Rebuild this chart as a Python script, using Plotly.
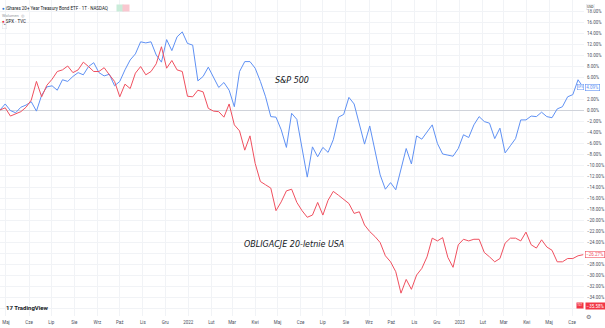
import pandas as pd
import plotly.graph_objects as go

# ---- data (percent change since start, weekly) ----
start_date = "2021-04-23"
n_weeks = 113
sp500 = [0.0, 1.1, -0.1, -0.5, 0.5, 0.9, 1.5, -0.2, 2.7, 4.2,
         4.4, 3.6, 5.5, 5.2, 6.1, 6.8, 6.4, 7.9, 8.6, 6.8,
         6.2, 6.5, 4.4, 5.2, 7.3, 9.1, 10.2, 12.4, 12.2, 12.4,
         10.0, 8.7, 12.8, 10.8, 13.3, 14.2, 12.1, 11.8, 5.3, 6.1,
         7.8, 5.9, 4.1, 5.0, 3.6, 0.6, 7.0, 8.8, 8.8, 7.6,
         5.2, 2.4, -1.2, -1.3, -3.6, -6.8, -0.6, -1.7, -6.7, -12.2,
         -6.7, -8.5, -6.8, -7.7, -5.4, -1.3, -0.8, 2.3, 1.1, -2.7,
         -6.2, -2.9, -7.6, -11.8, -14.4, -13.2, -14.5, -10.9, -7.0, -9.8,
         -4.7, -5.3, -3.9, -2.7, -6.1, -8.0, -8.2, -8.4, -7.0, -4.5,
         -5.0, -2.7, -1.2, -2.1, -2.4, -5.2, -3.3, -7.8, -6.5, -5.2,
         -1.8, -1.8, -1.1, -1.2, -0.4, -1.2, -1.4, 0.2, 0.6, 2.4,
         2.8, 5.5, 4.1]
bonds = [0.0, 0.4, -1.1, -0.7, -0.3, 0.5, 1.8, 5.2, 2.4, 4.5,
         5.6, 7.0, 7.3, 8.0, 6.8, 7.3, 8.7, 7.9, 7.0, 7.0,
         7.7, 6.4, 5.2, 2.4, 4.7, 3.9, 6.7, 7.9, 6.4, 7.0,
         8.4, 11.5, 7.6, 9.0, 7.3, 7.0, 2.5, 2.4, 3.6, 3.3,
         0.3, -0.2, -0.3, -1.3, 1.1, -2.7, -3.8, -7.3, -4.7, -9.7,
         -13.0, -13.6, -14.2, -18.3, -16.7, -14.7, -14.4, -16.8, -18.3, -19.5,
         -19.1, -16.8, -19.1, -16.4, -14.8, -15.5, -16.2, -17.0, -18.8, -18.5,
         -20.9, -22.1, -23.0, -24.1, -26.5, -27.6, -29.4, -33.3, -30.8, -32.6,
         -30.0, -28.8, -26.7, -23.3, -23.8, -23.2, -26.8, -28.6, -24.5, -23.5,
         -23.8, -23.5, -23.5, -25.9, -26.7, -27.6, -27.0, -24.2, -23.3, -23.3,
         -23.8, -22.2, -24.5, -25.1, -23.6, -24.9, -25.5, -27.6, -27.6, -27.0,
         -27.0, -26.5, -26.3]

month_ticks = ["2021-05-01", "2021-06-01", "2021-07-01", "2021-08-01", "2021-09-01",
               "2021-10-01", "2021-11-01", "2021-12-01", "2022-01-01", "2022-02-01",
               "2022-03-01", "2022-04-01", "2022-05-01", "2022-06-01", "2022-07-01",
               "2022-08-01", "2022-09-01", "2022-10-01", "2022-11-01", "2022-12-01",
               "2023-01-01", "2023-02-01", "2023-03-01", "2023-04-01", "2023-05-01",
               "2023-06-01"]
month_labels = ["Maj", "Cze", "Lip", "Sie", "Wrz", "Paź", "Lis", "Gru", "2022", "Lut",
                "Mar", "Kwi", "Maj", "Cze", "Lip", "Sie", "Wrz", "Paź", "Lis", "Gru",
                "2023", "Lut", "Mar", "Kwi", "Maj", "Cze"]
y_ticks = list(range(-36, 19, 2))
sp_label = "4.09%"
bond_label = "−26.27%"
extra_label = "−35.58%"
extra_value = -35.58

dates = pd.date_range(start_date, periods=n_weeks, freq="7D")

def fmt(v):
    s = f"{abs(v):.2f}%"
    return ("−" + s) if v < 0 else s

# price-scale tick labels hidden under the value tags (as in the reference)
covered = [sp500[-1], bonds[-1], extra_value]
tick_text = ["" if any(abs(v - c) < 1.2 for c in covered) else fmt(v) for v in y_ticks]

BLUE = "#5f91f4"
RED = "#f0505f"
FONT = "Roboto"

fig = go.Figure()
fig.add_trace(go.Scatter(x=dates, y=sp500, mode="lines",
                         line=dict(color=BLUE, width=1), hoverinfo="skip"))
fig.add_trace(go.Scatter(x=dates, y=bonds, mode="lines",
                         line=dict(color=RED, width=1), hoverinfo="skip"))

fig.update_layout(
    width=605, height=328,
    margin=dict(l=0, r=17, t=0, b=12),
    paper_bgcolor="white", plot_bgcolor="white",
    showlegend=False,
    font=dict(family=FONT, color="#4a4f5c", size=4.5),
    xaxis=dict(range=["2021-04-23", "2023-06-17"], tickvals=month_ticks,
               ticktext=month_labels, showgrid=True, gridcolor="#f1f3f6",
               gridwidth=1, zeroline=False, showline=False, ticks="",
               tickfont=dict(size=4.5, color="#4a4f5c"), ticklabelstandoff=2),
    yaxis=dict(range=[-37.45, 20], side="right", tickvals=y_ticks,
               ticktext=tick_text, showgrid=True,
               gridcolor="#f1f3f6", gridwidth=1, zeroline=True,
               zerolinecolor="#d0d3da", zerolinewidth=1, showline=False,
               ticks="", tickfont=dict(size=4.5, color="#4a4f5c"),
               ticklabelstandoff=2),
)

ann = []
# chart labels
ann.append(dict(x=0.50, y=1 - 74 / 316, xref="paper", yref="paper",
                text="<i>S&amp;P 500</i>", showarrow=False,
                font=dict(size=8, color="#131722", family="DejaVu Sans")))
ann.append(dict(x=0.504, y=1 - 251 / 316, xref="paper", yref="paper",
                text="<i>OBLIGACJE 20-letnie USA</i>", showarrow=False,
                font=dict(size=8, color="#131722", family="DejaVu Sans")))
# legend (top left)
ann.append(dict(x=0.0, y=1 - 4.5 / 316, xref="paper", yref="paper", xanchor="left",
                text="<span style='color:#2a78d6'>●</span> iShares 20+ Year Treasury Bond ETF · 1T · NASDAQ",
                showarrow=False, font=dict(size=4.5, color="#131722")))
ann.append(dict(x=117 / 588, y=1 - 4.5 / 316, xref="paper", yref="paper", xanchor="left",
                text=" ", showarrow=False, bgcolor="#c9ecd9", width=4, height=4,
                font=dict(size=3)))
ann.append(dict(x=123 / 588, y=1 - 4.5 / 316, xref="paper", yref="paper", xanchor="left",
                text=" ", showarrow=False, bgcolor="#f9c7cf", width=4, height=4,
                font=dict(size=3)))
ann.append(dict(x=0.0, y=1 - 11 / 316, xref="paper", yref="paper", xanchor="left",
                text="Wolumen  ◎", showarrow=False,
                font=dict(size=4, color="#9598a1")))
ann.append(dict(x=0.0, y=1 - 17 / 316, xref="paper", yref="paper", xanchor="left",
                text="<span style='color:#e5283a'>●</span> SPX · TVC", showarrow=False,
                font=dict(size=4.5, color="#131722")))
ann.append(dict(x=2 / 588, y=1 - 23.5 / 316, xref="paper", yref="paper", xanchor="left",
                text="⌃", showarrow=False, bordercolor="#e0e3eb", borderwidth=0.5,
                borderpad=0.5, font=dict(size=3.5, color="#131722")))
# price scale labels
ann.append(dict(x=589 / 588, y=sp500[-1], xref="paper", yref="y", xanchor="left",
                text=sp_label, showarrow=False, bgcolor="white", bordercolor=BLUE,
                borderwidth=0.6, borderpad=0.6, font=dict(size=4.5, color=BLUE)))
ann.append(dict(x=588 / 588, y=sp500[-1], xref="paper", yref="y", xanchor="right",
                text="SPX", showarrow=False, bgcolor="white", bordercolor=BLUE,
                borderwidth=0.5, borderpad=0.3, font=dict(size=3, color=BLUE)))
ann.append(dict(x=589 / 588, y=bonds[-1], xref="paper", yref="y", xanchor="left",
                text=bond_label, showarrow=False, bgcolor="white", bordercolor=RED,
                borderwidth=0.6, borderpad=0.6, font=dict(size=4.5, color=RED)))
ann.append(dict(x=589 / 588, y=extra_value, xref="paper", yref="y", xanchor="left",
                text=extra_label, showarrow=False, bgcolor="#f23645",
                borderpad=0.6, font=dict(size=4.5, color="white")))
ann.append(dict(x=588 / 588, y=extra_value, xref="paper", yref="y", xanchor="right",
                text="TLT", showarrow=False, bgcolor="#f23645",
                borderpad=0.3, font=dict(size=3, color="white")))
ann.append(dict(x=590 / 588, y=1 - 4 / 316, xref="paper", yref="paper", xanchor="left",
                text="USD", showarrow=False, bordercolor="#e0e3eb", borderwidth=0.5,
                borderpad=0.5, font=dict(size=3.5, color="#131722")))
ann.append(dict(x=597 / 588, y=-6 / 316, xref="paper", yref="paper",
                text="⚙", showarrow=False, font=dict(size=6, color="#6a6d78")))
# TradingView logo
ann.append(dict(x=4 / 588, y=1 - 313 / 316, xref="paper", yref="paper", xanchor="left",
                text="<b>17 TradingView</b>", showarrow=False,
                font=dict(size=6, color="#131722")))
fig.update_layout(annotations=ann)

fig.write_html("out.html")
